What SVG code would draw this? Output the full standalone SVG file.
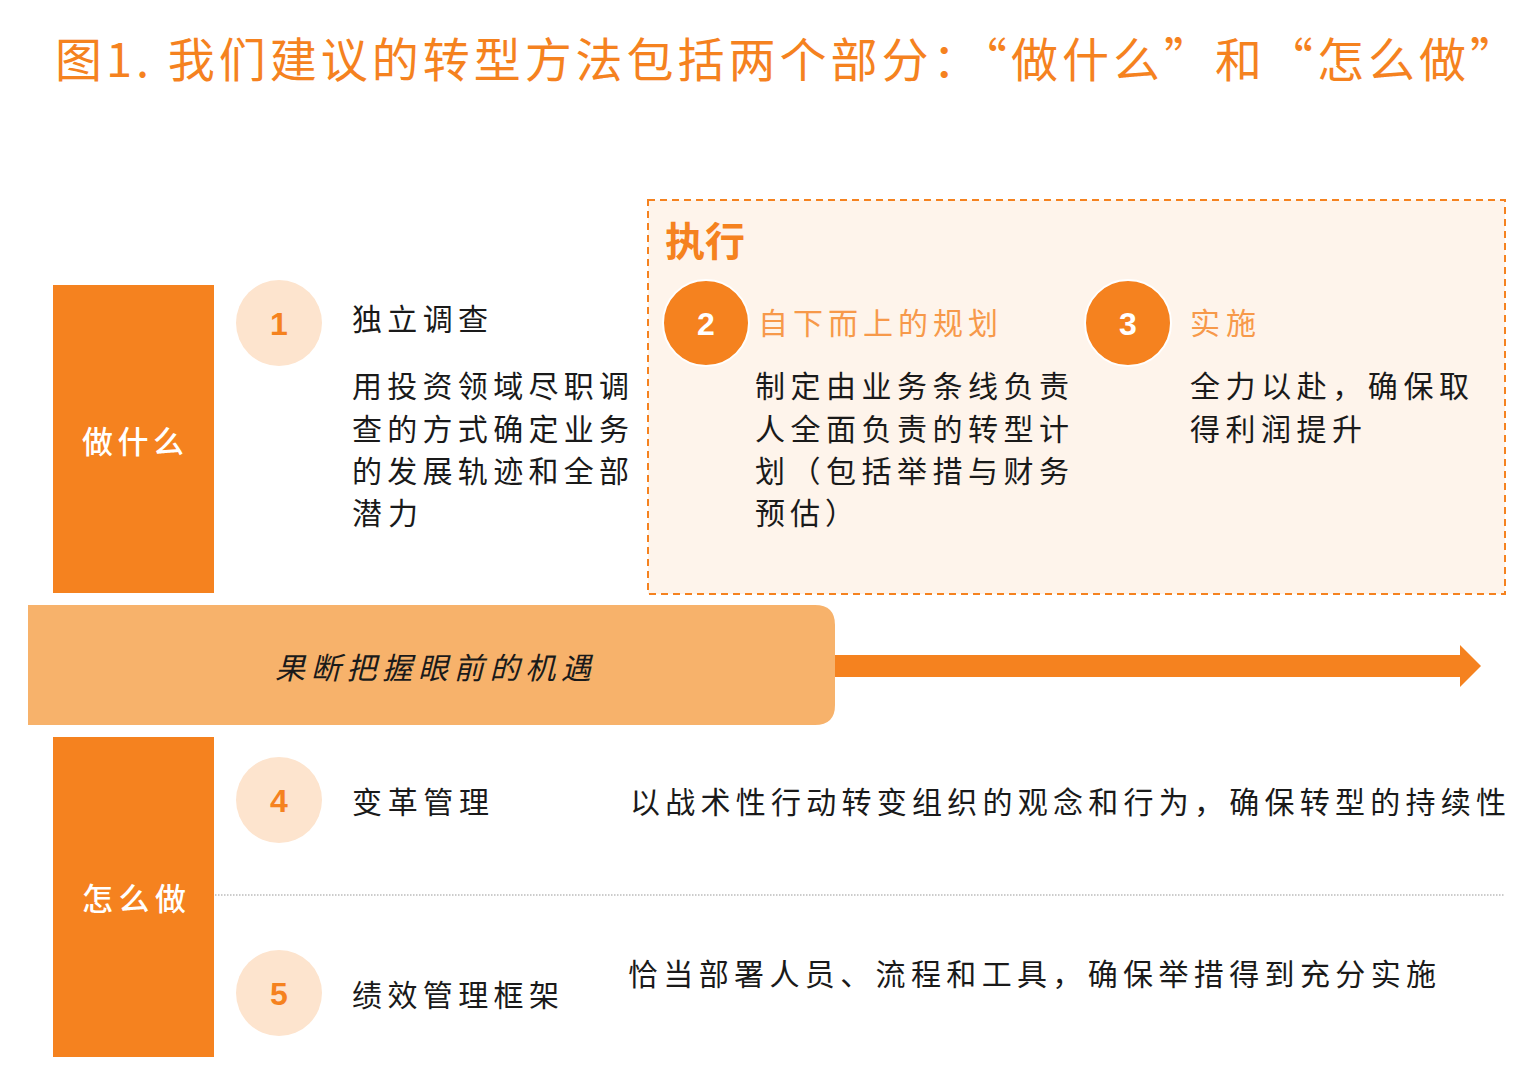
<svg xmlns="http://www.w3.org/2000/svg" width="1540" height="1090" viewBox="0 0 1540 1090">
<defs>
<style>
.title{font-family:"Noto Sans CJK SC","Noto Sans",sans-serif;font-size:47px;fill:#F5821F;}
.body{font-family:"Noto Sans CJK SC","Noto Sans",sans-serif;font-size:30px;fill:#1a1a1a;}
.head{font-family:"Noto Sans CJK SC","Noto Sans",sans-serif;font-size:30px;fill:#F7994A;}
.side{font-family:"Noto Sans CJK SC","Noto Sans",sans-serif;font-size:31px;fill:#ffffff;font-weight:500;}
.num{font-family:"Liberation Sans",Arial,sans-serif;font-size:32px;font-weight:bold;text-anchor:middle;}
.lc{fill:#FDE4CE;}
.dc{fill:#F5821F;stroke:#ffffff;stroke-width:2;}
.sidebox{fill:#F5821F;}
</style>
</defs>
<rect width="1540" height="1090" fill="#ffffff"/>
<text class="title" x="55" y="77" textLength="1462" lengthAdjust="spacing">图1. 我们建议的转型方法包括两个部分：“做什么”和“怎么做”</text>

<g id="exec-box">
<rect x="648" y="200" width="857" height="394" fill="#FEF4EB" stroke="#F5821F" stroke-width="2" stroke-dasharray="7 5"/>
<text x="665" y="256" font-family="'Noto Sans CJK SC',sans-serif" font-size="40" font-weight="bold" fill="#F5821F">执行</text>
</g>

<g id="what">
<rect class="sidebox" x="53" y="285" width="161" height="308"/>
<text class="side" x="82" y="453" textLength="102" lengthAdjust="spacing">做什么</text>
</g>

<g id="how">
<rect class="sidebox" x="53" y="737" width="161" height="320"/>
<text class="side" x="82" y="910" textLength="104" lengthAdjust="spacing">怎么做</text>
</g>

<g id="step1">
<circle class="lc" cx="279" cy="323" r="43"/>
<text class="num" x="279" y="335" fill="#F5821F">1</text>
<text class="body" x="352" y="330" textLength="136" lengthAdjust="spacing">独立调查</text>
<text class="body" x="352" y="397" textLength="277" lengthAdjust="spacing">用投资领域尽职调</text>
<text class="body" x="352" y="440" textLength="277" lengthAdjust="spacing">查的方式确定业务</text>
<text class="body" x="352" y="482" textLength="277" lengthAdjust="spacing">的发展轨迹和全部</text>
<text class="body" x="352" y="524" textLength="66" lengthAdjust="spacing">潜力</text>
</g>

<g id="step2">
<circle class="dc" cx="706" cy="323" r="43"/>
<text class="num" x="706" y="335" fill="#ffffff">2</text>
<text class="head" x="758" y="334" textLength="240" lengthAdjust="spacing">自下而上的规划</text>
<text class="body" x="755" y="397" textLength="314" lengthAdjust="spacing">制定由业务条线负责</text>
<text class="body" x="755" y="440" textLength="314" lengthAdjust="spacing">人全面负责的转型计</text>
<text class="body" x="755" y="482" textLength="314" lengthAdjust="spacing">划（包括举措与财务</text>
<text class="body" x="755" y="524" textLength="100" lengthAdjust="spacing">预估）</text>
</g>

<g id="step3">
<circle class="dc" cx="1128" cy="323" r="43"/>
<text class="num" x="1128" y="335" fill="#ffffff">3</text>
<text class="head" x="1190" y="334" textLength="66" lengthAdjust="spacing">实施</text>
<text class="body" x="1190" y="397" textLength="279" lengthAdjust="spacing">全力以赴，确保取</text>
<text class="body" x="1190" y="440" textLength="172" lengthAdjust="spacing">得利润提升</text>
</g>

<g id="connectors">
<path d="M28,605 H815 Q835,605 835,625 V705 Q835,725 815,725 H28 Z" fill="#F7B26B"/>
<polygon points="835,655 1460,655 1460,645 1481,666 1460,687 1460,677 835,677" fill="#F5821F"/>
<line x1="215" y1="895" x2="1505" y2="895" stroke="#999999" stroke-width="1.2" stroke-dasharray="1.5 1.5"/>
</g>

<g id="bar-label">
<text class="body" x="275" y="679" font-style="italic" font-size="31" textLength="316" lengthAdjust="spacing">果断把握眼前的机遇</text>
</g>

<g id="step4">
<circle class="lc" cx="279" cy="800" r="43"/>
<text class="num" x="279" y="812" fill="#F5821F">4</text>
<text class="body" x="352" y="813" textLength="137" lengthAdjust="spacing">变革管理</text>
<text class="body" x="630" y="813" textLength="876" lengthAdjust="spacing">以战术性行动转变组织的观念和行为，确保转型的持续性</text>
</g>

<g id="step5">
<circle class="lc" cx="279" cy="993" r="43"/>
<text class="num" x="279" y="1005" fill="#F5821F">5</text>
<text class="body" x="352" y="1006" textLength="207" lengthAdjust="spacing">绩效管理框架</text>
<text class="body" x="628" y="985" textLength="808" lengthAdjust="spacing">恰当部署人员、流程和工具，确保举措得到充分实施</text>
</g>
</svg>
